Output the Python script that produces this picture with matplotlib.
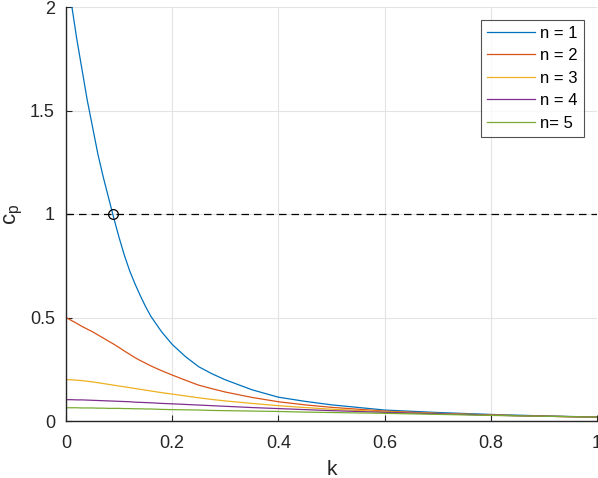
import matplotlib
matplotlib.use('Agg')
import matplotlib.pyplot as plt

plt.rcParams['font.family'] = ['Liberation Sans', 'DejaVu Sans']
plt.rcParams['mathtext.default'] = 'regular'

# values
k = [0, 0.01, 0.02, 0.03, 0.04, 0.05, 0.06, 0.07, 0.08, 0.09, 0.1, 0.11, 0.12, 0.13,
     0.14, 0.15, 0.16, 0.18, 0.2, 0.225, 0.25, 0.275, 0.3, 0.35, 0.4, 0.45, 0.5,
     0.6, 0.7, 0.8, 0.9, 1.0]
cp1 = [2.21, 2.02, 1.85, 1.70, 1.55, 1.42, 1.29, 1.18, 1.08, 0.98, 0.886, 0.80, 0.725, 0.662,
       0.605, 0.552, 0.505, 0.431, 0.37, 0.311, 0.262, 0.228, 0.199, 0.151, 0.115, 0.095, 0.078,
       0.053, 0.041, 0.0317, 0.0246, 0.019]
cp2 = [0.5, 0.486, 0.472, 0.457, 0.444, 0.431, 0.416, 0.401, 0.386, 0.371, 0.355, 0.338, 0.322, 0.306,
       0.292, 0.279, 0.266, 0.243, 0.222, 0.197, 0.173, 0.156, 0.14, 0.114, 0.093, 0.078, 0.066,
       0.048, 0.037, 0.029, 0.023, 0.019]
cp3 = [0.2, 0.199, 0.197, 0.195, 0.192, 0.189, 0.185, 0.181, 0.177, 0.173, 0.169, 0.165, 0.161, 0.157,
       0.153, 0.149, 0.145, 0.137, 0.13, 0.121, 0.112, 0.104, 0.097, 0.085, 0.074, 0.065, 0.057,
       0.045, 0.036, 0.029, 0.023, 0.019]
cp4 = [0.103, 0.103, 0.102, 0.102, 0.101, 0.100, 0.099, 0.098, 0.097, 0.096, 0.095, 0.094, 0.093, 0.091,
       0.090, 0.089, 0.088, 0.085, 0.083, 0.080, 0.077, 0.074, 0.071, 0.065, 0.060, 0.055, 0.050,
       0.042, 0.035, 0.028, 0.023, 0.019]
cp5 = [0.064, 0.064, 0.064, 0.063, 0.063, 0.063, 0.062, 0.062, 0.061, 0.061, 0.061, 0.060, 0.060, 0.059,
       0.059, 0.058, 0.058, 0.056, 0.055, 0.054, 0.053, 0.051, 0.050, 0.048, 0.046, 0.043, 0.041,
       0.037, 0.032, 0.027, 0.023, 0.019]
series = [cp1, cp2, cp3, cp4, cp5]
labels = ['n = 1', 'n = 2', 'n = 3', 'n = 4', 'n= 5']
k_cross = 0.088
cp_ref = 1.0

colors = [(0, 0.447, 0.741), (0.85, 0.325, 0.098), (0.929, 0.694, 0.125),
          (0.494, 0.184, 0.556), (0.466, 0.674, 0.188)]

fig = plt.figure(figsize=(5.98, 4.78), dpi=100)
ax = fig.add_axes([66/598, 57/478, 531/598, 414/478])

for ys, c, lab in zip(series, colors, labels):
    ax.plot(k, ys, color=c, lw=0.9, label=lab)

ax.axhline(cp_ref, color='black', ls=(0, (6, 4)), lw=0.9)
ax.plot([k_cross], [cp_ref], 'o', mfc='none', mec='black', ms=7, mew=0.9)

ax.set_xlim(0, 1)
ax.set_ylim(0, 2)
ax.set_xticks([0, 0.2, 0.4, 0.6, 0.8, 1])
ax.set_xticklabels(['0', '0.2', '0.4', '0.6', '0.8', '1'])
ax.set_yticks([0, 0.5, 1, 1.5, 2])
ax.set_yticklabels(['0', '0.5', '1', '1.5', '2'])
ax.grid(True, color='#e3e3e3', lw=0.8)
ax.set_axisbelow(True)
for s in ['top', 'right']:
    ax.spines[s].set_visible(False)
for s in ['left', 'bottom']:
    ax.spines[s].set_color('#262626')
    ax.spines[s].set_linewidth(1.0)
ax.tick_params(direction='in', length=4, labelsize=13, colors='#262626')
ax.tick_params(axis='x', pad=10)
ax.tick_params(axis='y', pad=8)

ax.set_xlabel('k', fontsize=15, color='#262626')
ax.xaxis.set_label_coords(0.5, -0.093)
ax.set_ylabel('$c_p$', fontsize=16, color='#262626')
ax.yaxis.set_label_coords(-0.077, 0.5)

leg = ax.legend(loc='upper right', bbox_to_anchor=(0.975, 0.969), borderaxespad=0,
                fontsize=12, frameon=True, fancybox=False, edgecolor='#262626',
                handlelength=2.9, borderpad=0.35, labelspacing=0.45, handletextpad=0.3)
leg.get_frame().set_linewidth(0.8)

fig.savefig('out.png', dpi=100)
